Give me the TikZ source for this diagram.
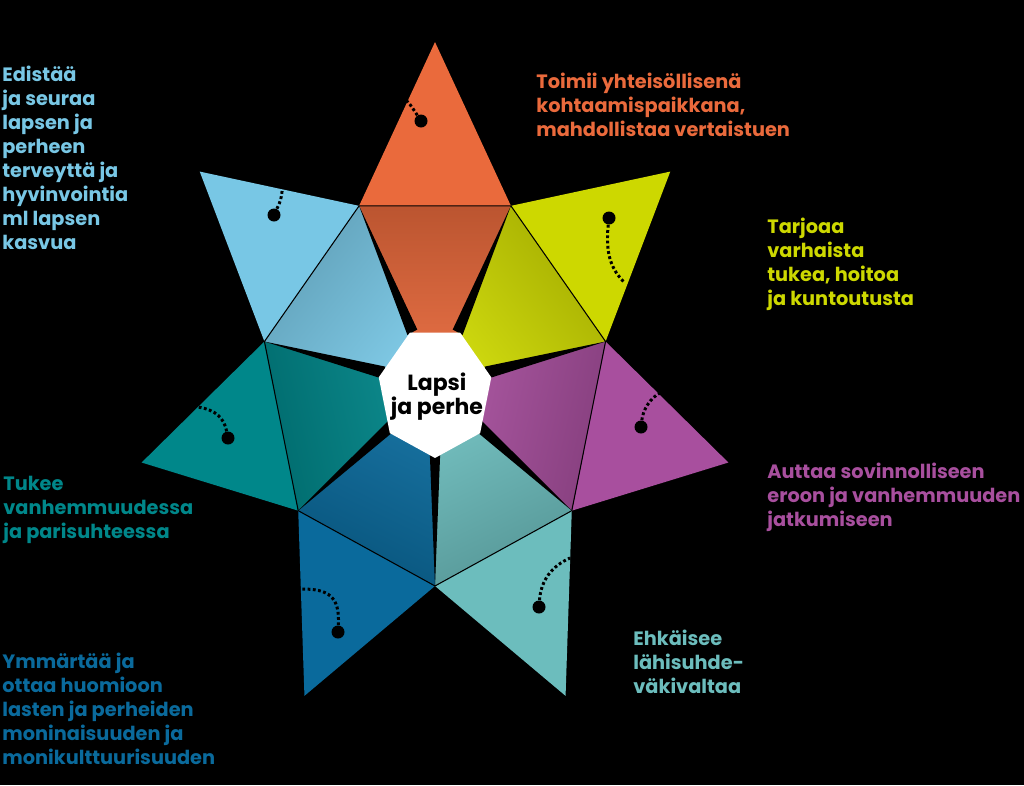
\documentclass[tikz,border=0pt]{standalone}
\usepackage{fontspec}
\setmainfont{Poppins}
\usepackage{tikz}
\usetikzlibrary{calc}

\definecolor{oranssi}{HTML}{EA6A3C}
\definecolor{keltainen}{HTML}{CDD800}
\definecolor{violetti}{HTML}{A84F9E}
\definecolor{turkoosi}{HTML}{6CBDBD}
\definecolor{sininen}{HTML}{0A6A9C}
\definecolor{petrooli}{HTML}{00878A}
\definecolor{vaaleansin}{HTML}{78C7E5}

\begin{document}
\begin{tikzpicture}[x=0.02cm, y=0.02cm, every node/.style={font=\bfseries\fontsize{11}{13.6}\selectfont}]
\tikzset{teksti/.style={anchor=base west, align=left, inner sep=0pt},
  bead/.style={circle, fill=black, inner sep=0pt, minimum size=0.26cm},
  cord/.style={line width=1.7pt, dash pattern=on 1.6pt off 1.4pt}}
\fill[black] (0,0) rectangle (1024,-785);
\useasboundingbox (0,0) rectangle (1024,-785);

\begin{scope}[shift={(435,-386)}, x=3.5cm, y=4cm]
\foreach \k in {0,...,6}{
  \coordinate (t\k) at ({1.72*cos(90-\k*360/7)},{1.72*sin(90-\k*360/7)});
  \coordinate (v\k) at ({cos(90-(\k+0.5)*360/7)},{sin(90-(\k+0.5)*360/7)});
}
\coordinate (c) at (0,0);
% star points and folded inner parts
\foreach \k/\col in {0/oranssi,1/keltainen,2/violetti,3/turkoosi,4/sininen,5/petrooli,6/vaaleansin}{
  \pgfmathtruncatemacro\p{mod(\k+6,7)}
  \pgfmathsetmacro\ang{-\k*360/7}
  \fill[\col] (t\k) -- (v\p) -- (v\k) -- cycle;
  \shade[top color=\col!80!black, bottom color=\col!94!white, shading angle=\ang] (c) -- (v\p) -- (v\k) -- cycle;
}
% gaps between the folds
\foreach \k in {0,...,6}{
  \pgfmathsetmacro\va{90-(\k+0.5)*360/7}
  \fill[black] (v\k) -- ({0.3*cos(\va+6)},{0.3*sin(\va+6)}) -- ({0.3*cos(\va-6)},{0.3*sin(\va-6)}) -- cycle;
}
\draw[line width=0.6pt] (v0) \foreach \k in {1,...,6}{-- (v\k)} -- cycle;
\fill[white, shift={(0,-0.03)}] ({0.33*cos(-90)},{0.33*sin(-90)}) \foreach \j in {1,...,6}{-- ({0.33*cos(-90+\j*360/7)},{0.33*sin(-90+\j*360/7)})} -- cycle;
\node[align=center, font=\bfseries\fontsize{12.5}{13.6}\selectfont] (perhe) at (0.011,-0.055) {Lapsi\\ja perhe};
\end{scope}

% beads
\node[bead] (b0) at (421,-121) {}; \coordinate (e0) at (402,-96);
\node[bead] (b1) at (609,-218) {}; \coordinate (e1) at (624,-282);
\node[bead] (b2) at (641,-427) {}; \coordinate (e2) at (660,-393);
\node[bead] (b3) at (539,-607) {}; \coordinate (e3) at (570,-558);
\node[bead] (b4) at (338,-632) {}; \coordinate (e4) at (302,-589);
\node[bead] (b5) at (228,-438) {}; \coordinate (e5) at (198,-407);
\node[bead] (b6) at (274,-215) {}; \coordinate (e6) at (283,-184);
\draw[cord] (b0) .. controls (410,-104) .. (e0);
\draw[cord] (b1) .. controls (605,-255) and (612,-270) .. (e1);
\draw[cord] (b2) .. controls (643,-410) and (650,-398) .. (e2);
\draw[cord] (b3) .. controls (541,-580) and (552,-566) .. (e3);
\draw[cord] (b4) .. controls (340,-596) and (328,-589) .. (e4);
\draw[cord] (b5) .. controls (224,-418) and (216,-410) .. (e5);
\draw[cord] (b6) .. controls (281,-200) .. (e6);

% texts (base = last line)
\node[teksti, text=vaaleansin] (edistaa) at (2,-249) {Edistää\\ja seuraa\\lapsen ja\\perheen\\terveyttä ja\\hyvinvointia\\ml lapsen\\kasvua};
\node[teksti, text=oranssi] (toimii) at (536,-136) {Toimii yhteisöllisenä\\kohtaamispaikkana,\\mahdollistaa vertaistuen};
\node[teksti, text=keltainen] (tarjoaa) at (767,-305) {Tarjoaa\\varhaista\\tukea, hoitoa\\ja kuntoutusta};
\node[teksti, text=violetti] (auttaa) at (767,-526) {Auttaa sovinnolliseen\\eroon ja vanhemmuuden\\jatkumiseen};
\node[teksti, text=turkoosi] (ehkaisee) at (633,-693) {Ehkäisee\\lähisuhde-\\väkivaltaa};
\node[teksti, text=petrooli] (tukee) at (3,-538) {Tukee\\vanhemmuudessa\\ja parisuhteessa};
\node[teksti, text=sininen] (ymmartaa) at (2,-764) {Ymmärtää ja\\ottaa huomioon\\lasten ja perheiden\\moninaisuuden ja\\monikulttuurisuuden};
\end{tikzpicture}
\end{document}
